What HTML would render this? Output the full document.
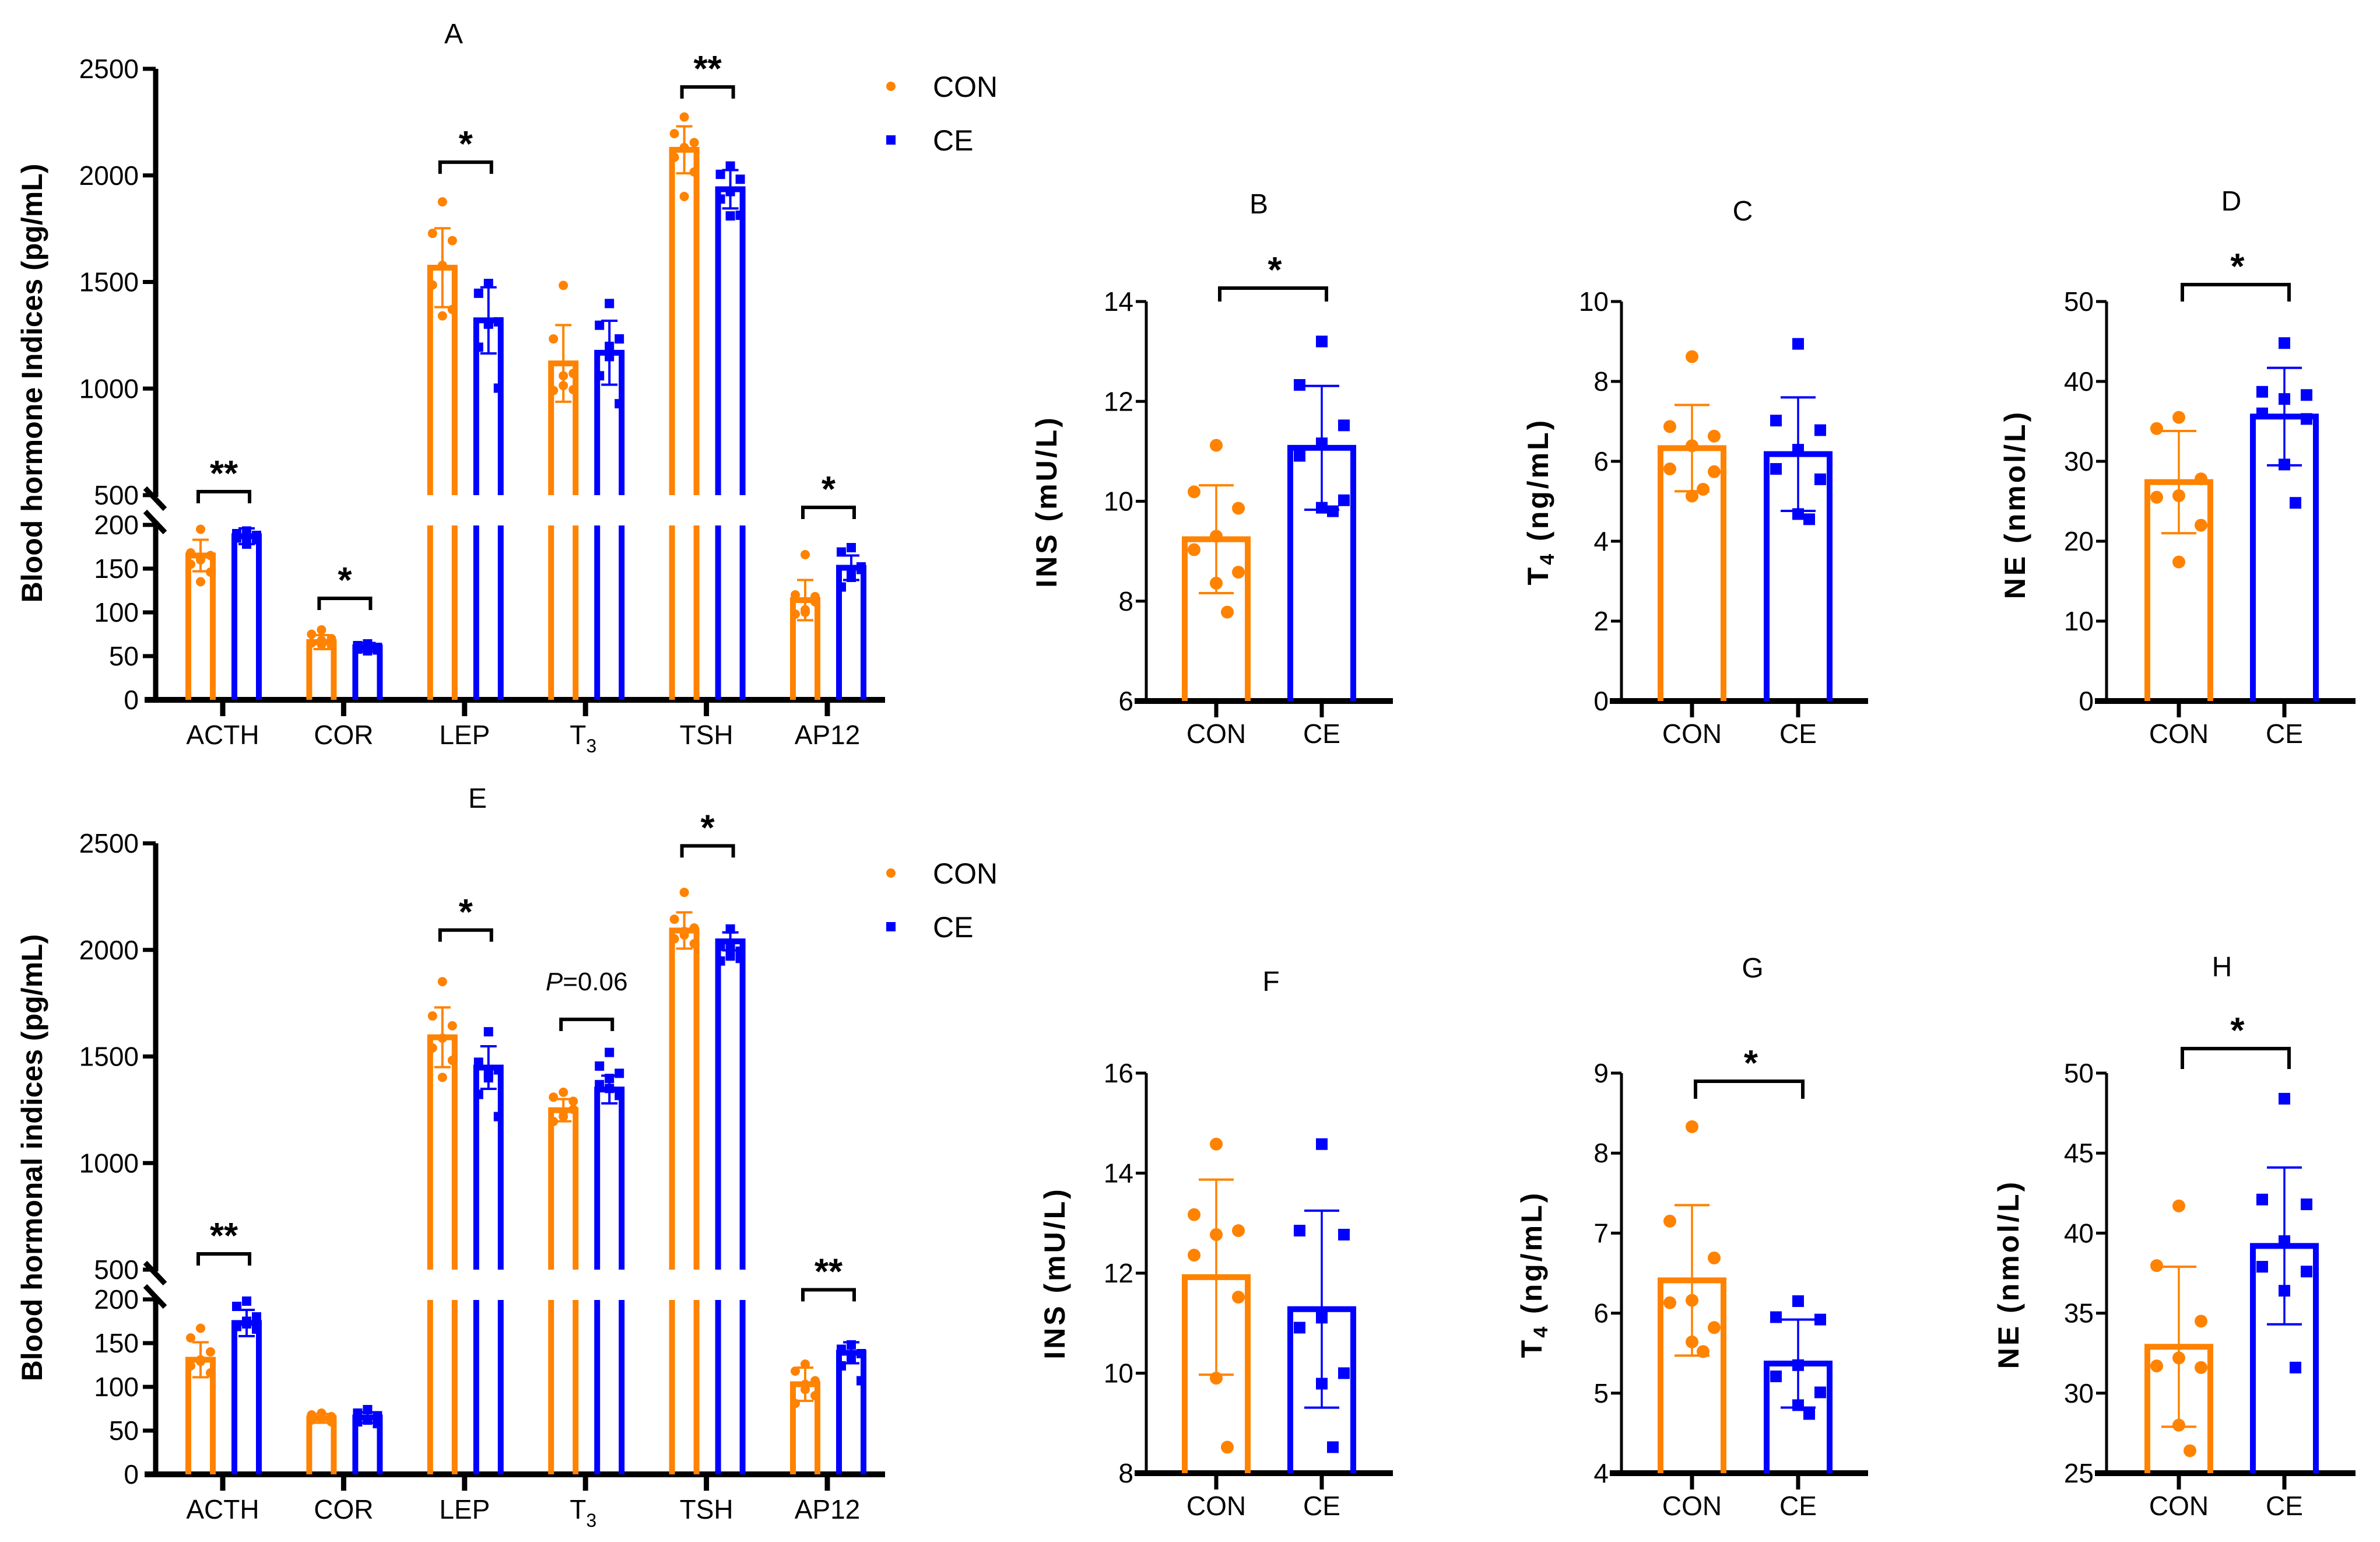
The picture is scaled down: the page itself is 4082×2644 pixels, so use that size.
<!DOCTYPE html>
<html><head><meta charset="utf-8"><style>
html,body{margin:0;padding:0;background:#fff;}
svg{display:block;font-family:"Liberation Sans",Arial,sans-serif;}
</style></head><body>
<svg id="fig" xmlns="http://www.w3.org/2000/svg" width="4082" height="2644" viewBox="0 0 4082 2644"></svg>
<script>
// ---------- DATA ----------
const bigCategories = ["ACTH","COR","LEP","T3","TSH","AP12"];
// Panel A
const aConMean = [165,66,1567,1118,2120,114];
const aConErr = [18,8,185,180,110,23];
const aConPts = [[195,168,165,160,155,146,135],[80,75,70,68,65,62,63],[1876,1728,1694,1578,1486,1371,1341],[1484,1233,1071,1014,991,995,1060],[2274,2196,2154,2131,2085,2016,1901],[166,120,112,103,98,118,100]];
const aCeMean = [187,60,1320,1168,1935,151];
const aCeErr = [9,5,155,150,90,14];
const aCePts = [[193,190,188,186,185,183,178],[64,62,60,60,58,57,56],[1493,1447,1313,1302,1194,1002,1305],[1399,1297,1233,1198,1060,929,1150],[2044,2005,1982,1924,1889,1813,1810],[174,169,149,143,129,152,140]];
const aBrackets = [[0,238,"**"],[1,116,"*"],[2,2062,"*"],[4,2415,"**"],[5,220,"*"]];
// Panel E
const eConMean = [131,64,1590,1248,2091,103];
const eConErr = [20,5,140,52,85,19];
const eConPts = [[167,156,140,129,124,116,131],[70,68,66,64,62,60,65],[1851,1690,1644,1586,1540,1482,1402],[1332,1309,1252,1218,1195,1290,1240],[2270,2144,2103,2087,2052,2029,2070],[126,118,107,97,81,90,103]];
const eCeMean = [173,65,1448,1345,2040,139];
const eCeErr = [15,6,100,65,42,12];
const eCePts = [[198,192,180,175,169,166,172],[74,70,67,63,60,58,62],[1616,1473,1437,1414,1322,1218,1400],[1519,1455,1421,1397,1368,1317,1350],[2098,2017,1994,1971,1948,1960,2010],[148,143,138,132,124,107,136]];
const eBrackets = [[0,252,"**"],[2,2093,"*"],[3,1674,"P=0.06"],[4,2488,"*"],[5,211,"**"]];
// Small panels
const smallCategories = ["CON","CE"];
const bConPts=[11.12,10.19,9.86,9.30,9.03,8.58,8.36,7.78], bCePts=[13.2,12.33,11.52,11.16,10.91,10.02,9.87,9.8];
const bMeans=[9.24,11.07], bErrs=[1.08,1.24];
const cConPts=[8.62,6.87,6.63,6.39,5.81,5.74,5.13,5.3], cCePts=[8.94,7.02,6.78,6.29,5.81,5.55,4.68,4.55];
const cMeans=[6.33,6.18], cErrs=[1.08,1.42];
const dConPts=[35.5,34.1,27.8,25.7,25.5,22.0,17.4], dCePts=[44.8,38.7,38.3,37.8,36.0,35.3,29.6,24.8];
const dMeans=[27.4,35.6], dErrs=[6.4,6.1];
const fConPts=[14.58,13.17,12.85,12.77,12.36,11.52,9.9,8.52], fCePts=[14.58,12.85,12.77,11.11,10.91,10.0,9.79,8.52];
const fMeans=[11.92,11.28], fErrs=[1.95,1.97];
const gConPts=[8.33,7.15,6.69,6.16,6.13,5.82,5.64,5.52], gCePts=[6.15,5.95,5.92,5.35,5.21,5.01,4.85,4.74];
const gMeans=[6.41,5.37], gErrs=[0.94,0.55];
const hConPts=[41.7,37.97,34.5,32.2,31.7,31.6,28.0,26.4], hCePts=[48.4,42.1,41.8,39.5,37.9,37.6,36.4,31.6];
const hMeans=[32.9,39.2], hErrs=[5.0,4.9];

const ORANGE="#ff8200", BLUE="#0000ff";
const svg=document.getElementById('fig');
const NS="http://www.w3.org/2000/svg";
function mk(tag,attrs,parent){const e=document.createElementNS(NS,tag);for(const k in attrs)e.setAttribute(k,attrs[k]);(parent||svg).appendChild(e);return e;}
function line(x1,y1,x2,y2,c,w,p){return mk('line',{x1,y1,x2,y2,stroke:c,'stroke-width':w},p);}
function txt(x,y,s,size,opts,p){const t=mk('text',Object.assign({x,y,'font-size':size,fill:'#000'},opts||{}),p);t.textContent=s;return t;}
const jit=[0,-1,1,0,-1,1,0,0.5];

// ---------- BROKEN AXIS PANELS ----------
function bigPanel(dy,title,ytitle,conMean,conErr,conPts,ceMean,ceErr,cePts,brackets,tag){
  const g=mk('g',{});
  
  
  const axX=267, base=1200+dy;
  const y=v=> v>=500 ? 849+dy-(v-500)*0.3655 : 1200+dy-v*1.5;
  const xc=i=>382+i*207.4;
  const ax=line(axX,118+dy,axX,852+dy,'#000',9,g);
  
  line(axX,900+dy,axX,base,'#000',9,g);
  line(249,837+dy,283,873+dy,'#000',9,g);line(249,877+dy,283,913+dy,'#000',9,g);
  const xa=line(248,base,1518,base,'#000',10,g);
  
  [500,1000,1500,2000,2500].forEach(v=>{line(245,y(v),axX,y(v),'#000',7,g);
    const t=txt(238,y(v)+16,String(v),46,{'text-anchor':'end'},g);});
  [0,50,100,150,200].forEach(v=>{if(v>0)line(245,y(v),axX,y(v),'#000',7,g);
    const t=txt(238,y(v)+16,String(v),46,{'text-anchor':'end'},g);});
  const yt=txt(0,0,ytitle,50,{'font-weight':'bold','text-anchor':'middle',transform:`translate(72,${657+dy}) rotate(-90)`},g);
  
  const tt=txt(title==='A'?778:819,(title==='A'?74:1385-dy)+dy,title,48,{'text-anchor':'middle'},g);
  
  bigCategories.forEach((c,i)=>{
    line(xc(i),base,xc(i),base+28,'#000',9,g);
    let t;
    if(c==='T3'){t=txt(xc(i)-4,base+76,'T',46,{'text-anchor':'middle'},g);const s=mk('tspan',{dy:14,'font-size':32},t);s.textContent='3';}
    else t=txt(xc(i),base+76,c,46,{'text-anchor':'middle'},g);
    
    [[conMean,conErr,conPts,ORANGE,-38,'circle'],[ceMean,ceErr,cePts,BLUE,41,'square']].forEach(([m,e,p,col,off,shape])=>{
      const cx=xc(i)+off, hw=21;
      const bg=mk('g',{},g);
      
      
      const v=m[i];
      if(v>500){
        line(cx-hw,base,cx-hw,901+dy,col,10,bg);line(cx+hw,base,cx+hw,901+dy,col,10,bg);
        mk('path',{d:`M${cx-hw},${849+dy} V${y(v)} H${cx+hw} V${849+dy}`,fill:'none',stroke:col,'stroke-width':10},bg);
      } else {
        mk('path',{d:`M${cx-hw},${base} V${y(v)} H${cx+hw} V${base}`,fill:'none',stroke:col,'stroke-width':10},bg);
      }
      line(cx,y(v-e[i]),cx,y(v+e[i]),col,4,bg);
      line(cx-14,y(v-e[i]),cx+14,y(v-e[i]),col,4,bg);
      line(cx-14,y(v+e[i]),cx+14,y(v+e[i]),col,4,bg);
      p[i].forEach((pv,k)=>{
        const px=cx+jit[k]*17;
        let d;
        if(shape==='circle')d=mk('circle',{cx:px,cy:y(pv),r:8,fill:col},bg);
        else d=mk('rect',{x:px-8,y:y(pv)-8,width:16,height:16,fill:col},bg);
        
      });
    });
  });
  brackets.forEach(([i,v,lab])=>{
    const by=y(v), x1=xc(i)-42, x2=xc(i)+46;
    const b=mk('path',{d:`M${x1},${by+20} V${by} H${x2} V${by+20}`,fill:'none',stroke:'#000','stroke-width':6},g);
    
    let t;
    if(lab.startsWith('P')){t=txt((x1+x2)/2,by-50,'',44,{'text-anchor':'middle'},g);
      const a=mk('tspan',{'font-style':'italic'},t);a.textContent='P';const b2=mk('tspan',{},t);b2.textContent='=0.06';}
    else t=txt((x1+x2)/2,by-10,lab,62,{'text-anchor':'middle','font-weight':'bold'},g);
    
  });
  const lg=mk('g',{},g);
  
  const ly1=(title==='A'?148:1497-dy)+dy, ly2=(title==='A'?240:1589-dy)+dy;
  mk('circle',{cx:1528,cy:ly1,r:8,fill:ORANGE},lg);
  mk('rect',{x:1520,y:ly2-8,width:16,height:16,fill:BLUE},lg);
  const l1=txt(1600,ly1+18,'CON',50,{},lg);
  const l2=txt(1600,ly2+18,'CE',50,{},lg);
}
bigPanel(0,'A','Blood hormone Indices (pg/mL)',aConMean,aConErr,aConPts,aCeMean,aCeErr,aCePts,aBrackets,'a');
bigPanel(1328,'E','Blood hormonal indices (pg/mL)',eConMean,eConErr,eConPts,eCeMean,eCeErr,eCePts,eBrackets,'e');

// ---------- SMALL PANELS ----------
function smallPanel(o){
  const g=mk('g',{});
  
  
  const y=v=>o.yb-(v-o.min)/(o.max-o.min)*(o.yb-o.yt);
  const ax=line(o.ax,o.yt,o.ax,o.yb,'#000',5,g);
  const xa=line(o.ax-20,o.yb,o.right,o.yb,'#000',10,g);
  o.ticks.forEach(v=>{line(o.ax-18,y(v),o.ax,y(v),'#000',5,g);
    const t=txt(o.ax-22,y(v)+16,String(v),46,{'text-anchor':'end'},g);});
  const yt=txt(0,0,'',50,{'font-weight':'bold','text-anchor':'middle','letter-spacing':4,transform:`translate(${o.ytx},${o.ytc}) rotate(-90)`},g);
  if(o.sub){const a=mk('tspan',{},yt);a.textContent='T';const s=mk('tspan',{'font-size':34,dy:10},yt);s.textContent='4';const r=mk('tspan',{dy:-10},yt);r.textContent=' '+o.ytitle;}
  else yt.textContent=o.ytitle;
  
  const tt=txt(o.tx,o.ty,o.title,48,{'text-anchor':'middle'},g);
  const cols=[ORANGE,BLUE], pts=[o.con,o.ce];
  smallCategories.forEach((c,i)=>{
    const cx=o.xs[i];
    line(cx,o.yb,cx,o.yb+28,'#000',7,g);
    const t=txt(cx,o.yb+72,c,46,{'text-anchor':'middle'},g);
    const bg=mk('g',{},g);
    
    
    const m=o.means[i], e=o.errs[i], col=cols[i];
    mk('path',{d:`M${cx-54},${o.yb} V${y(m)} H${cx+54} V${o.yb}`,fill:'none',stroke:col,'stroke-width':10},bg);
    line(cx,y(m-e),cx,y(m+e),col,3.5,bg);
    line(cx-30,y(m-e),cx+30,y(m-e),col,4,bg);
    line(cx-30,y(m+e),cx+30,y(m+e),col,4,bg);
    pts[i].forEach((pv,k)=>{
      const px=cx+jit[k]*38;
      let d;
      if(i===0)d=mk('circle',{cx:px,cy:y(pv),r:11,fill:col},bg);
      else d=mk('rect',{x:px-10,y:y(pv)-10,width:20,height:20,fill:col},bg);
      
    });
  });
  if(o.br){
    const by=o.br[0], bb=o.br[1];
    const b=mk('path',{d:`M${o.xs[0]+6},${bb} V${by} H${o.xs[1]+8} V${bb}`,fill:'none',stroke:'#000','stroke-width':6},g);
    
    const t=txt((o.xs[0]+o.xs[1])/2+10,by-10,'*',62,{'text-anchor':'middle','font-weight':'bold'},g);
    
  }
}
const rowT={yt:517,yb:1202}, rowB={yt:1840,yb:2526};
smallPanel(Object.assign({},rowT,{title:'B',tx:2159,ty:366,ax:1966,right:2389,xs:[2086,2267],min:6,max:14,ticks:[6,8,10,12,14],ytitle:'INS (mU/L)',ytx:1812,ytc:860,con:bConPts,ce:bCePts,means:bMeans,errs:bErrs,br:[494,517]}));
smallPanel(Object.assign({},rowT,{title:'C',tx:2989,ty:378,ax:2781,right:3204,xs:[2902,3084],min:0,max:10,ticks:[0,2,4,6,8,10],ytitle:'(ng/mL)',sub:true,ytx:2655,ytc:860,con:cConPts,ce:cCePts,means:cMeans,errs:cErrs}));
smallPanel(Object.assign({},rowT,{title:'D',tx:3827,ty:361,ax:3613,right:4040,xs:[3737,3918],min:0,max:50,ticks:[0,10,20,30,40,50],ytitle:'NE (nmol/L)',ytx:3473,ytc:865,con:dConPts,ce:dCePts,means:dMeans,errs:dErrs,br:[488,517]}));
smallPanel(Object.assign({},rowB,{title:'F',tx:2180,ty:1699,ax:1966,right:2389,xs:[2086,2267],min:8,max:16,ticks:[8,10,12,14,16],ytitle:'INS (mU/L)',ytx:1826,ytc:2183,con:fConPts,ce:fCePts,means:fMeans,errs:fErrs}));
smallPanel(Object.assign({},rowB,{title:'G',tx:3006,ty:1676,ax:2781,right:3204,xs:[2902,3084],min:4,max:9,ticks:[4,5,6,7,8,9],ytitle:'(ng/mL)',sub:true,ytx:2644,ytc:2185,con:gConPts,ce:gCePts,means:gMeans,errs:gErrs,br:[1854,1884]}));
smallPanel(Object.assign({},rowB,{title:'H',tx:3811,ty:1674,ax:3613,right:4040,xs:[3737,3918],min:25,max:50,ticks:[25,30,35,40,45,50],ytitle:'NE (nmol/L)',ytx:3462,ytc:2185,con:hConPts,ce:hCePts,means:hMeans,errs:hErrs,br:[1798,1833]}));
</script>
</body></html>
